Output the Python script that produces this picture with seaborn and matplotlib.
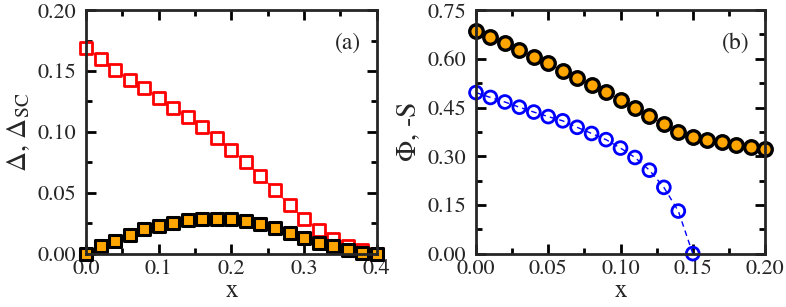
import numpy as np
import pandas as pd
import seaborn as sns
import matplotlib
matplotlib.use("Agg")
import matplotlib.pyplot as plt
from matplotlib.ticker import MultipleLocator

# panel (a): gaps vs x
x_a = [0.00, 0.02, 0.04, 0.06, 0.08, 0.10, 0.12, 0.14, 0.16, 0.18, 0.20,
       0.22, 0.24, 0.26, 0.28, 0.30, 0.32, 0.34, 0.36, 0.38, 0.40]
delta = [0.169, 0.160, 0.151, 0.143, 0.136, 0.128, 0.120, 0.112, 0.104, 0.095, 0.085,
         0.075, 0.064, 0.052, 0.040, 0.0285, 0.0196, 0.0118, 0.0064, 0.0027, 0.0]
delta_sc = [0.0, 0.0062, 0.0107, 0.0156, 0.0199, 0.0226, 0.025, 0.0274, 0.0282, 0.0287, 0.0282,
            0.0268, 0.0242, 0.0209, 0.0172, 0.0129, 0.0091, 0.0059, 0.0027, 0.0008, 0.0]

# panel (b): Phi and -S vs x
x_b = [0.00, 0.01, 0.02, 0.03, 0.04, 0.05, 0.06, 0.07, 0.08, 0.09, 0.10,
       0.11, 0.12, 0.13, 0.14, 0.15, 0.16, 0.17, 0.18, 0.19, 0.20]
phi = [0.685, 0.667, 0.648, 0.627, 0.607, 0.586, 0.563, 0.541, 0.519, 0.497, 0.474,
       0.449, 0.424, 0.398, 0.374, 0.359, 0.350, 0.344, 0.336, 0.329, 0.321]
x_s = [0.00, 0.01, 0.02, 0.03, 0.04, 0.05, 0.06, 0.07, 0.08, 0.09, 0.10,
       0.11, 0.12, 0.13, 0.14, 0.15]
minus_s = [0.496, 0.481, 0.467, 0.451, 0.436, 0.422, 0.409, 0.389, 0.370, 0.351, 0.325,
           0.296, 0.257, 0.204, 0.131, 0.0]

sns.set_style("ticks")
plt.rcParams['font.family'] = ['STIXGeneral', 'Liberation Serif', 'DejaVu Serif']
plt.rcParams['mathtext.fontset'] = 'stix'
plt.rcParams['axes.linewidth'] = 2.0

ORANGE = "#FFA500"

fig = plt.figure(figsize=(7.86, 3.07), dpi=100)
ax1 = fig.add_axes([0.1094, 0.174, 0.370, 0.793])
ax2 = fig.add_axes([0.6056, 0.174, 0.3677, 0.793])

df_a = pd.DataFrame({"x": x_a, "delta": delta, "delta_sc": delta_sc})
df_b = pd.DataFrame({"x": x_b, "phi": phi})
df_s = pd.DataFrame({"x": x_s, "s": minus_s})

# panel (a)
sns.lineplot(data=df_a, x="x", y="delta", ax=ax1, color="red", lw=0.8, zorder=2)
sns.lineplot(data=df_a, x="x", y="delta_sc", ax=ax1, color=ORANGE, lw=1.0,
             linestyle=(0, (2, 2)), zorder=2)
sns.scatterplot(data=df_a, x="x", y="delta", ax=ax1, marker="s", s=65,
                facecolor="white", edgecolor="red", linewidth=2.0, zorder=3, clip_on=False)
sns.scatterplot(data=df_a, x="x", y="delta_sc", ax=ax1, marker="s", s=70,
                facecolor=ORANGE, edgecolor="black", linewidth=2.2, zorder=4, clip_on=False)
ax1.set_xlim(0, 0.4)
ax1.set_ylim(0, 0.2)
ax1.xaxis.set_major_locator(MultipleLocator(0.1))
ax1.xaxis.set_minor_locator(MultipleLocator(0.05))
ax1.yaxis.set_major_locator(MultipleLocator(0.05))
ax1.yaxis.set_minor_locator(MultipleLocator(0.025))
ax1.xaxis.set_major_formatter(plt.FormatStrFormatter("%.1f"))
ax1.yaxis.set_major_formatter(plt.FormatStrFormatter("%.2f"))
ax1.set_xlabel("x", fontsize=18, labelpad=0)
ax1.set_ylabel(r"$\Delta$, $\Delta_{\mathrm{SC}}$", fontsize=20, labelpad=4)
ax1.text(0.90, 0.865, "(a)", transform=ax1.transAxes, fontsize=17,
         ha="center", va="center")

# panel (b)
sns.lineplot(data=df_b, x="x", y="phi", ax=ax2, color="red", lw=0.8, zorder=2)
sns.lineplot(data=df_s, x="x", y="s", ax=ax2, color="blue", lw=1.0,
             linestyle=(0, (4, 3)), zorder=2)
sns.scatterplot(data=df_b, x="x", y="phi", ax=ax2, marker="o", s=95,
                facecolor=ORANGE, edgecolor="black", linewidth=2.4, zorder=4, clip_on=False)
sns.scatterplot(data=df_s, x="x", y="s", ax=ax2, marker="o", s=85,
                facecolor="none", edgecolor="blue", linewidth=2.0, zorder=3, clip_on=False)
ax2.set_xlim(0, 0.2)
ax2.set_ylim(0, 0.75)
ax2.xaxis.set_major_locator(MultipleLocator(0.05))
ax2.xaxis.set_minor_locator(MultipleLocator(0.025))
ax2.yaxis.set_major_locator(MultipleLocator(0.15))
ax2.yaxis.set_minor_locator(MultipleLocator(0.075))
ax2.xaxis.set_major_formatter(plt.FormatStrFormatter("%.2f"))
ax2.yaxis.set_major_formatter(plt.FormatStrFormatter("%.2f"))
ax2.set_xlabel("x", fontsize=18, labelpad=0)
ax2.set_ylabel(r"$\Phi$, -S", fontsize=20, labelpad=4)
ax2.text(0.90, 0.865, "(b)", transform=ax2.transAxes, fontsize=17,
         ha="center", va="center")

for ax in (ax1, ax2):
    ax.tick_params(which="both", direction="in", top=True, right=True,
                   labelsize=16, width=2.0, color="black")
    ax.tick_params(which="major", length=7)
    ax.tick_params(which="minor", length=4)
    ax.tick_params(axis="x", which="major", pad=4)
    ax.tick_params(axis="y", which="major", pad=7)
    for sp in ax.spines.values():
        sp.set_visible(True)
        sp.set_linewidth(2.0)
        sp.set_zorder(5)

fig.savefig("out.png", dpi=100)
